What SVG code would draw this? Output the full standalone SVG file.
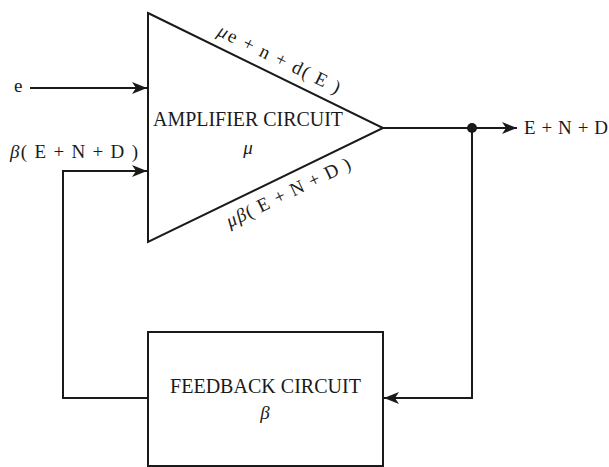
<svg xmlns="http://www.w3.org/2000/svg" width="609" height="467" viewBox="0 0 609 467">
<style>
.ln{fill:none;stroke:#1a1a1a;stroke-width:2}
.sh{fill:#fff;stroke:#1a1a1a;stroke-width:2}
text{font-family:"Liberation Serif","Times New Roman",serif;fill:#1a1a1a}
.it{font-style:italic}
</style>
<defs>
<marker id="ah" markerUnits="userSpaceOnUse" markerWidth="16" markerHeight="14" refX="15" refY="7" orient="auto">
<path d="M0,1 L15,7 L0,13 L4,7 z" fill="#1a1a1a"/>
</marker>
</defs>
<g id="connectors">
<line class="ln" x1="30" y1="88" x2="147" y2="88" marker-end="url(#ah)"/>
<polyline class="ln" points="148,398 63,398 63,171 147,171" marker-end="url(#ah)"/>
<line class="ln" x1="383" y1="128" x2="517" y2="128" marker-end="url(#ah)"/>
<polyline class="ln" points="472,128 472,398 384,398" marker-end="url(#ah)"/>
<circle cx="472" cy="128" r="5" fill="#1a1a1a"/>
</g>
<g id="amplifier">
<polygon class="sh" points="148,13 383,128 148,242"/>
<text x="248" y="126" font-size="20" text-anchor="middle" textLength="190" lengthAdjust="spacingAndGlyphs">AMPLIFIER CIRCUIT</text>
<text x="248" y="154" font-size="19" text-anchor="middle" class="it">μ</text>
</g>
<g id="feedback">
<rect class="sh" x="148" y="332" width="235" height="134"/>
<text x="265.5" y="393" font-size="20" text-anchor="middle" textLength="191" lengthAdjust="spacingAndGlyphs">FEEDBACK CIRCUIT</text>
<text x="265" y="419" font-size="19" text-anchor="middle" class="it">β</text>
</g>
<g id="labels">
<text x="14" y="92" font-size="19">e</text>
<text x="10" y="158" font-size="19" textLength="128" lengthAdjust="spacing"><tspan class="it">β</tspan>( E + N + D )</text>
<text x="524" y="134" font-size="19" textLength="84" lengthAdjust="spacing">E + N + D</text>
<text transform="translate(276.5,64.5) rotate(26.07)" font-size="19" text-anchor="middle" textLength="134" lengthAdjust="spacing"><tspan class="it">μ</tspan>e + n + d( E )</text>
<text transform="translate(291,198) rotate(-25.88)" font-size="19" text-anchor="middle" textLength="136" lengthAdjust="spacing"><tspan class="it">μβ</tspan>( E + N + D )</text>
</g>
</svg>
